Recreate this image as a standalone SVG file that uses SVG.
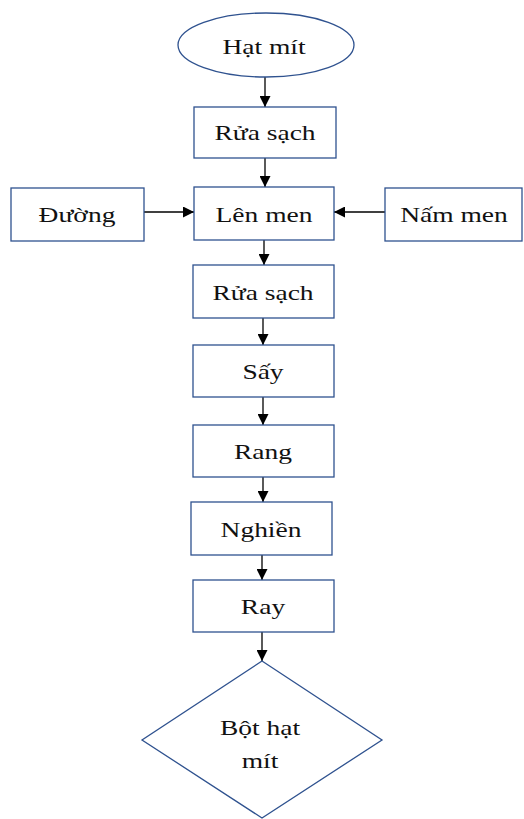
<svg xmlns="http://www.w3.org/2000/svg" width="524" height="819" viewBox="0 0 524 819">
<style>
.box{fill:#fff;stroke:#2F528F;stroke-width:1.3}
.t{font-family:"Liberation Serif","Times New Roman",serif;font-size:22px;fill:#111;text-anchor:middle}
.c{stroke:#000;stroke-width:1.3;fill:none;marker-end:url(#ah)}
</style>
<defs>
<marker id="ah" markerUnits="userSpaceOnUse" markerWidth="11" markerHeight="11" refX="11" refY="5.5" orient="auto" viewBox="0 0 11 11">
<path d="M0,0 L11,5.5 L0,11 Z" fill="#000"/>
</marker>
</defs>
<rect width="524" height="819" fill="#fff"/>
<g id="connectors">
<line class="c" x1="265" y1="77" x2="265" y2="107"/>
<line class="c" x1="265" y1="158" x2="265" y2="187"/>
<line class="c" x1="264" y1="240" x2="264" y2="265"/>
<line class="c" x1="263" y1="318" x2="263" y2="345"/>
<line class="c" x1="263" y1="397" x2="263" y2="425"/>
<line class="c" x1="263" y1="477" x2="263" y2="502"/>
<line class="c" x1="262" y1="555" x2="262" y2="580"/>
<line class="c" x1="262" y1="632" x2="262" y2="661"/>
<line class="c" x1="144" y1="212" x2="194" y2="212"/>
<line class="c" x1="385" y1="212" x2="334" y2="212"/>
</g>
<g id="hat-mit">
<ellipse class="box" cx="266" cy="45" rx="88" ry="32"/>
<text class="t" transform="translate(264,54) scale(1.25,1)">Hạt mít</text>
</g>
<g id="rua-sach-1">
<rect class="box" x="194" y="107" width="142" height="51"/>
<text class="t" transform="translate(265,140) scale(1.25,1)">Rửa sạch</text>
</g>
<g id="duong">
<rect class="box" x="11" y="188" width="133" height="53"/>
<text class="t" transform="translate(77,222) scale(1.25,1)">Đường</text>
</g>
<g id="len-men">
<rect class="box" x="194" y="187" width="140" height="53"/>
<text class="t" transform="translate(264,222) scale(1.25,1)">Lên men</text>
</g>
<g id="nam-men">
<rect class="box" x="385" y="188" width="137" height="53"/>
<text class="t" transform="translate(454,222) scale(1.25,1)">Nấm men</text>
</g>
<g id="rua-sach-2">
<rect class="box" x="193" y="265" width="141" height="53"/>
<text class="t" transform="translate(263,300) scale(1.25,1)">Rửa sạch</text>
</g>
<g id="say">
<rect class="box" x="193" y="345" width="141" height="52"/>
<text class="t" transform="translate(263,379) scale(1.25,1)">Sấy</text>
</g>
<g id="rang">
<rect class="box" x="193" y="425" width="141" height="52"/>
<text class="t" transform="translate(263,459) scale(1.25,1)">Rang</text>
</g>
<g id="nghien">
<rect class="box" x="191" y="502" width="141" height="53"/>
<text class="t" transform="translate(261,537) scale(1.25,1)">Nghiền</text>
</g>
<g id="ray">
<rect class="box" x="193" y="580" width="141" height="52"/>
<text class="t" transform="translate(263,614) scale(1.25,1)">Ray</text>
</g>
<g id="bot-hat-mit">
<polygon class="box" points="262,661 382,740 262,818 142,740"/>
<text class="t" transform="translate(260,735) scale(1.25,1)">Bột hạt</text>
<text class="t" transform="translate(260,768) scale(1.25,1)">mít</text>
</g>
</svg>
